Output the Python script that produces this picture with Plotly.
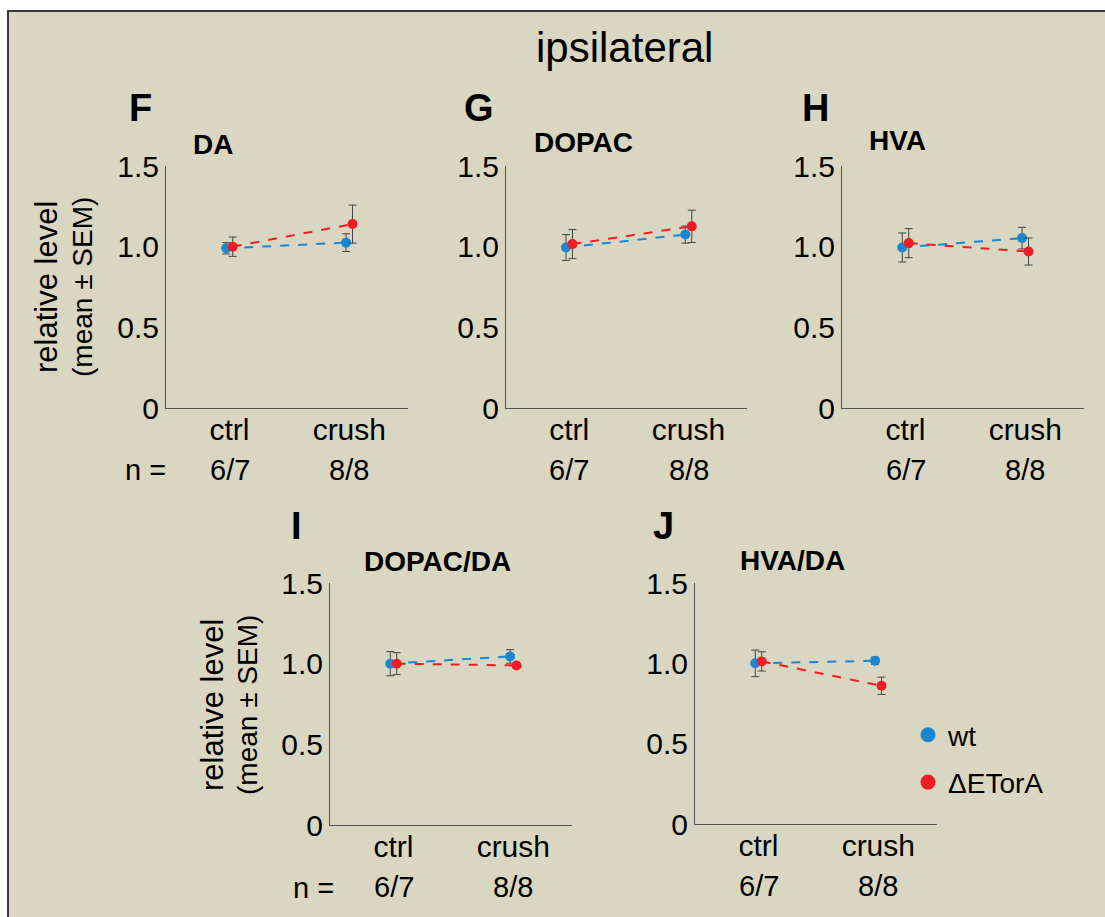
import plotly.graph_objects as go

# ---------------- data ----------------
categories = ["ctrl", "crush"]
n_labels = ["6/7", "8/8"]
panel_letters = ["F", "G", "H", "I", "J"]
panel_names = ["DA", "DOPAC", "HVA", "DOPAC/DA", "HVA/DA"]

wt_mean = {
    "DA": [0.99, 1.025],
    "DOPAC": [0.995, 1.075],
    "HVA": [0.995, 1.053],
    "DOPAC/DA": [1.0, 1.045],
    "HVA/DA": [1.0, 1.016],
}
wt_sem = {
    "DA": [0.035, 0.055],
    "DOPAC": [0.08, 0.053],
    "HVA": [0.09, 0.067],
    "DOPAC/DA": [0.075, 0.042],
    "HVA/DA": [0.083, 0.022],
}
etora_mean = {
    "DA": [1.0, 1.14],
    "DOPAC": [1.016, 1.126],
    "HVA": [1.022, 0.97],
    "DOPAC/DA": [1.0, 0.989],
    "HVA/DA": [1.012, 0.86],
}
etora_sem = {
    "DA": [0.06, 0.118],
    "DOPAC": [0.09, 0.1],
    "HVA": [0.09, 0.084],
    "DOPAC/DA": [0.068, 0.005],
    "HVA/DA": [0.06, 0.054],
}
series_names = ["wt", "\u0394ETorA"]
y_tickvals = [0, 0.5, 1.0, 1.5]
y_ticktext = ["0", "0.5", "1.0", "1.5"]

# ---------------- style ----------------
W, H = 1105, 917
FONT = "Liberation Sans, Arial, sans-serif"
BG = "#D9D7C1"
BLUE = "#1B87D0"
RED = "#EE1C25"
AXC = "#555555"
ERRC = "#444444"
OFFSET = 0.027

# pixel boxes (left, right, top, bottom)
boxes = [
    (166, 408, 166, 408),
    (506, 747, 166, 408),
    (842, 1084, 166, 408),
    (330, 572, 583, 825),
    (695, 937, 583, 824),
]
name_pos = [(213, 145), (583, 142), (897, 140), (437, 561), (792, 560)]
letter_pos = [(140, 108), (479, 108), (815, 108), (296, 526), (663, 526)]


def px(x):
    return x / W


def py(y):
    return 1 - y / H


def ann(text, x, y, size, angle=0, xref="paper"):
    return dict(text=text, xref=xref, yref="paper", x=x, y=y,
                xanchor="center", yanchor="middle", showarrow=False,
                textangle=angle, font=dict(size=size, family=FONT, color="black"))


fig = go.Figure()
layout = dict(
    width=W, height=H,
    margin=dict(l=0, r=0, t=0, b=0, pad=0),
    paper_bgcolor="white",
    plot_bgcolor="rgba(0,0,0,0)",
    font=dict(family=FONT, color="black"),
    showlegend=True,
)

annotations = []
for i, name in enumerate(panel_names):
    k = "" if i == 0 else str(i + 1)
    xa, ya = "x" + k, "y" + k
    l, r, t, b = boxes[i]
    layout["xaxis" + k] = dict(
        domain=[px(l), px(r)], range=[-0.53, 1.49], anchor=ya, automargin=False,
        tickvals=[0, 1], ticktext=categories, showgrid=False, zeroline=False,
        showline=True, linecolor=AXC, linewidth=1, ticks="", ticklabelstandoff=-5,
        tickfont=dict(size=30, family=FONT, color="black"),
    )
    layout["yaxis" + k] = dict(
        domain=[py(b), py(t)], range=[0, 1.5], anchor=xa, automargin=False,
        tickvals=y_tickvals, ticktext=y_ticktext, showgrid=False, zeroline=False,
        showline=True, linecolor=AXC, linewidth=1, ticks="",
        tickfont=dict(size=30, family=FONT, color="black"),
    )
    for s, (means, sems, color) in enumerate(
        [(wt_mean, wt_sem, BLUE), (etora_mean, etora_sem, RED)]
    ):
        off = -OFFSET if s == 0 else OFFSET
        fig.add_trace(go.Scatter(
            x=[c + off for c in range(len(categories))],
            y=means[name], xaxis=xa, yaxis=ya,
            mode="lines+markers",
            line=dict(color=color, width=2, dash="dash"),
            marker=dict(color=color, size=10),
            error_y=dict(type="data", array=sems[name], color=ERRC,
                         thickness=1, width=4),
            showlegend=False, cliponaxis=False,
        ))
    for j, nl in enumerate(n_labels):
        annotations.append(ann(nl, j, py(b + 62), 29, xref=xa))
    annotations.append(ann("<b>%s</b>" % panel_letters[i], px(letter_pos[i][0]),
                           py(letter_pos[i][1]), 38))
    annotations.append(ann("<b>%s</b>" % name, px(name_pos[i][0]),
                           py(name_pos[i][1]), 28))

# n = labels
for (xx, yy) in [(145, 470), (313, 888)]:
    annotations.append(ann("n =", px(xx), py(yy), 29))
# y titles
for (x1, x2, yc) in [(47, 83, 287), (212, 247, 705)]:
    annotations.append(ann("relative level", px(x1), py(yc), 31, angle=-90))
    annotations.append(ann("(mean \u00b1 SEM)", px(x2), py(yc), 28, angle=-90))
# main title
annotations.append(ann("ipsilateral", px(624), py(48), 42))

# legend traces
for s, color in enumerate([BLUE, RED]):
    fig.add_trace(go.Scatter(x=[None], y=[None], mode="markers", name=series_names[s],
                             marker=dict(color=color, size=15), legendgroup=series_names[s],
                             xaxis="x5", yaxis="y5"))

layout["legend"] = dict(x=px(908), y=py(710), xanchor="left", yanchor="top",
                        bgcolor="rgba(0,0,0,0)", font=dict(size=28, family=FONT),
                        tracegroupgap=8, itemsizing="trace")
layout["annotations"] = annotations
layout["shapes"] = [dict(type="rect", xref="paper", yref="paper", x0=px(8), x1=1.05,
                         y0=-0.05, y1=py(11), fillcolor=BG,
                         line=dict(color="#3a3a3a", width=2), layer="below")]
fig.update_layout(**layout)
fig.write_html("out.html")
